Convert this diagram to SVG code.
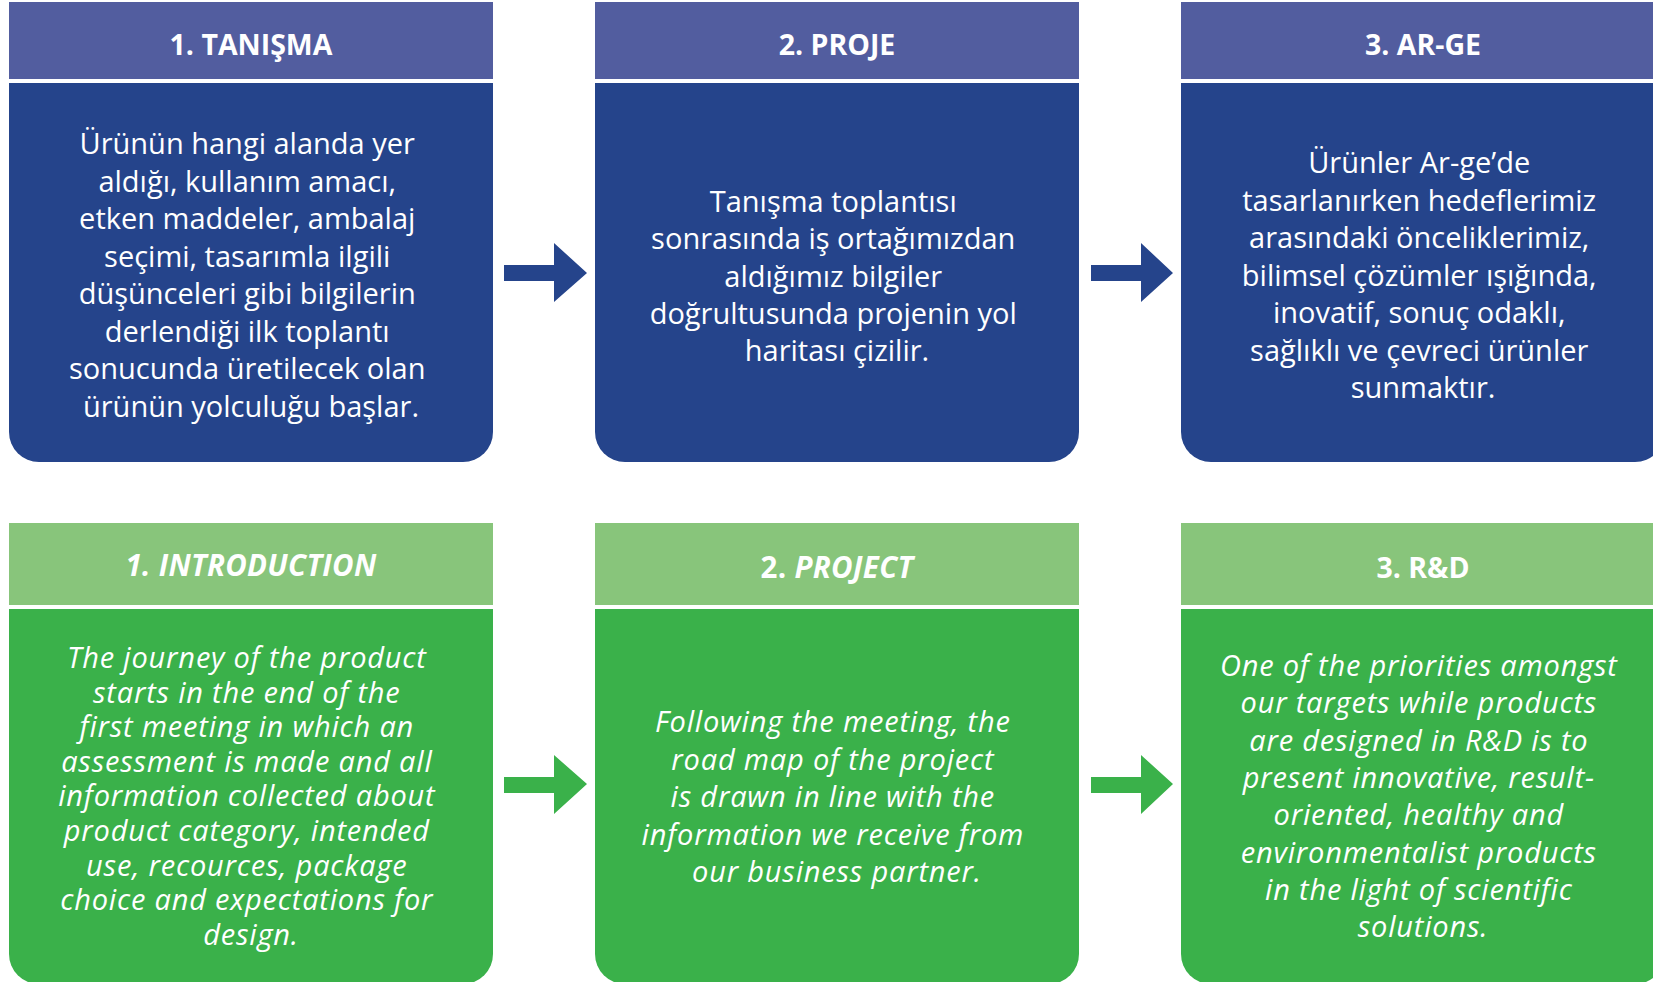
<svg xmlns="http://www.w3.org/2000/svg" width="1653" height="982" viewBox="0 0 1653 982">
<defs>
<style>
.hb{fill:#525D9F}
.bb{fill:#25448B}
.hg{fill:#88C57B}
.bg{fill:#3AB14A}
.ab{fill:#25448B}
.ag{fill:#3AB14A}
.ht{font-family:"Open Sans","Liberation Sans",sans-serif;font-weight:700;font-size:28.5px;fill:#fff;text-anchor:middle}
.hti{font-family:"Open Sans","Liberation Sans",sans-serif;font-weight:700;font-style:italic;font-size:29.5px;letter-spacing:0.3px;fill:#fff;text-anchor:middle}
.tt{font-family:"Open Sans","Liberation Sans",sans-serif;font-size:29px;fill:#fff;text-anchor:middle}
.ti{font-family:"Open Sans","Liberation Sans",sans-serif;font-style:italic;font-size:29px;letter-spacing:0.8px;fill:#fff;text-anchor:middle}
</style>
</defs>
<rect width="1653" height="982" fill="#fff"/>

<g id="node-tanisma">
<rect class="hb" x="9" y="2" width="484" height="77"/>
<path class="bb" d="M9,83 H493 V432 A30,30 0 0 1 463,462 H39 A30,30 0 0 1 9,432 Z"/>
<text class="ht" x="251" y="55">1. TANIŞMA</text>
<text class="tt">
<tspan x="251" y="154">Ürünün hangi alanda yer</tspan>
<tspan x="251" y="191.5">aldığı, kullanım amacı,</tspan>
<tspan x="251" y="229">etken maddeler, ambalaj</tspan>
<tspan x="251" y="266.5">seçimi, tasarımla ilgili</tspan>
<tspan x="251" y="304">düşünceleri gibi bilgilerin</tspan>
<tspan x="251" y="341.5">derlendiği ilk toplantı</tspan>
<tspan x="251" y="379">sonucunda üretilecek olan</tspan>
<tspan x="251" y="416.5">ürünün yolculuğu başlar.</tspan>
</text>
</g>

<g id="node-proje">
<rect class="hb" x="595" y="2" width="484" height="77"/>
<path class="bb" d="M595,83 H1079 V432 A30,30 0 0 1 1049,462 H625 A30,30 0 0 1 595,432 Z"/>
<text class="ht" x="837" y="55">2. PROJE</text>
<text class="tt">
<tspan x="837" y="212">Tanışma toplantısı</tspan>
<tspan x="837" y="249.25">sonrasında iş ortağımızdan</tspan>
<tspan x="837" y="286.5">aldığımız bilgiler</tspan>
<tspan x="837" y="323.75">doğrultusunda projenin yol</tspan>
<tspan x="837" y="361">haritası çizilir.</tspan>
</text>
</g>

<g id="node-arge">
<rect class="hb" x="1181" y="2" width="484" height="77"/>
<path class="bb" d="M1181,83 H1665 V432 A30,30 0 0 1 1635,462 H1211 A30,30 0 0 1 1181,432 Z"/>
<text class="ht" x="1423" y="55">3. AR-GE</text>
<text class="tt">
<tspan x="1423" y="173">Ürünler Ar-ge’de</tspan>
<tspan x="1423" y="210.5">tasarlanırken hedeflerimiz</tspan>
<tspan x="1423" y="248">arasındaki önceliklerimiz,</tspan>
<tspan x="1423" y="285.5">bilimsel çözümler ışığında,</tspan>
<tspan x="1423" y="323">inovatif, sonuç odaklı,</tspan>
<tspan x="1423" y="360.5">sağlıklı ve çevreci ürünler</tspan>
<tspan x="1423" y="398">sunmaktır.</tspan>
</text>
</g>

<g id="node-introduction">
<rect class="hg" x="9" y="523" width="484" height="82"/>
<path class="bg" d="M9,609 H493 V954 A30,30 0 0 1 463,984 H39 A30,30 0 0 1 9,954 Z"/>
<text class="hti" x="251" y="576">1. INTRODUCTION</text>
<text class="ti">
<tspan x="251" y="668">The journey of the product</tspan>
<tspan x="251" y="702.6">starts in the end of the</tspan>
<tspan x="251" y="737.2">first meeting in which an</tspan>
<tspan x="251" y="771.8">assessment is made and all</tspan>
<tspan x="251" y="806.4">information collected about</tspan>
<tspan x="251" y="841">product category, intended</tspan>
<tspan x="251" y="875.6">use, recources, package</tspan>
<tspan x="251" y="910.2">choice and expectations for</tspan>
<tspan x="251" y="944.8">design.</tspan>
</text>
</g>

<g id="node-project">
<rect class="hg" x="595" y="523" width="484" height="82"/>
<path class="bg" d="M595,609 H1079 V954 A30,30 0 0 1 1049,984 H625 A30,30 0 0 1 595,954 Z"/>
<text class="hti" x="837" y="578"><tspan font-style="normal">2. </tspan>PROJECT</text>
<text class="ti">
<tspan x="837" y="732">Following the meeting, the</tspan>
<tspan x="837" y="769.5">road map of the project</tspan>
<tspan x="837" y="807">is drawn in line with the</tspan>
<tspan x="837" y="844.5">information we receive from</tspan>
<tspan x="837" y="882">our business partner.</tspan>
</text>
</g>

<g id="node-rd">
<rect class="hg" x="1181" y="523" width="484" height="82"/>
<path class="bg" d="M1181,609 H1665 V954 A30,30 0 0 1 1635,984 H1211 A30,30 0 0 1 1181,954 Z"/>
<text class="ht" x="1423" y="578">3. R&amp;D</text>
<text class="ti">
<tspan x="1423" y="676">One of the priorities amongst</tspan>
<tspan x="1423" y="713.3">our targets while products</tspan>
<tspan x="1423" y="750.6">are designed in R&amp;D is to</tspan>
<tspan x="1423" y="787.9">present innovative, result-</tspan>
<tspan x="1423" y="825.2">oriented, healthy and</tspan>
<tspan x="1423" y="862.5">environmentalist products</tspan>
<tspan x="1423" y="899.8">in the light of scientific</tspan>
<tspan x="1423" y="937.1">solutions.</tspan>
</text>
</g>

<g id="connectors">
<polygon class="ab" points="504,265 554,265 554,243 587,273 554,302 554,281 504,281"/>
<polygon class="ab" points="1091,265 1141,265 1141,243 1173,273 1141,302 1141,281 1091,281"/>
<polygon class="ag" points="504,777 554,777 554,755 587,784 554,814 554,793 504,793"/>
<polygon class="ag" points="1091,777 1141,777 1141,755 1173,784 1141,814 1141,793 1091,793"/>
</g>
</svg>
